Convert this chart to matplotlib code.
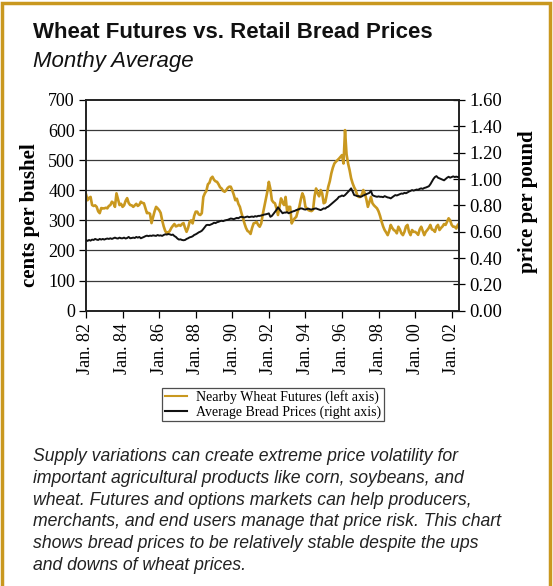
import matplotlib
matplotlib.use("Agg")
import matplotlib.pyplot as plt
from matplotlib.patches import Rectangle
from matplotlib.lines import Line2D
import numpy as np

# ---- data (monthly, Jan 1982 .. Jun 2002) ----
start_year = 1982
wheat_cents = [
    387, 367, 375, 378, 351, 348, 350, 345, 330, 324, 341, 340,   # 1982
    340, 342, 340, 348, 351, 362, 358, 345, 390, 370, 351, 355,   # 1983
    345, 350, 365, 374, 358, 351, 350, 345, 350, 355, 348, 352,   # 1984
    362, 358, 357, 340, 324, 325, 322, 291, 310, 330, 345, 340,   # 1985
    334, 325, 300, 280, 265, 258, 260, 265, 275, 282, 288, 280,   # 1986
    282, 285, 282, 288, 291, 275, 262, 275, 295, 300, 290, 315,   # 1987
    329, 329, 320, 318, 324, 378, 390, 398, 420, 425, 440, 445,   # 1988
    435, 430, 428, 420, 410, 406, 398, 395, 400, 408, 412, 412,   # 1989
    400, 385, 367, 372, 355, 345, 325, 307, 290, 275, 265, 262,   # 1990
    255, 275, 290, 292, 295, 285, 279, 290, 320, 345, 370, 395,   # 1991
    428, 405, 367, 360, 357, 340, 318, 345, 373, 360, 351, 378,   # 1992
    329, 345, 345, 290, 300, 307, 312, 330, 345, 370, 390, 378,   # 1993
    345, 340, 334, 332, 331, 335, 380, 406, 390, 380, 401, 390,   # 1994
    357, 360, 385, 412, 430, 456, 475, 489, 495, 500, 505, 511,   # 1995
    517, 489, 600, 520, 489, 467, 440, 423, 410, 400, 384, 378,   # 1996
    378, 385, 401, 390, 370, 345, 362, 378, 357, 350, 345, 340,   # 1997
    330, 315, 296, 280, 268, 260, 251, 265, 285, 275, 268, 265,   # 1998
    257, 279, 270, 257, 251, 262, 280, 285, 262, 251, 268, 262,   # 1999
    262, 258, 252, 270, 279, 265, 251, 262, 268, 275, 285, 270,   # 2000
    268, 262, 279, 285, 268, 275, 280, 288, 285, 296, 307, 300,   # 2001
    285, 279, 279, 273, 285, 290,                                 # 2002
]
bread_dollars = [
    0.537, 0.530, 0.537, 0.532, 0.540, 0.537, 0.545, 0.540, 0.537, 0.545, 0.540, 0.545,
    0.540, 0.545, 0.548, 0.545, 0.550, 0.545, 0.550, 0.555, 0.550, 0.548, 0.555, 0.550,
    0.550, 0.555, 0.548, 0.552, 0.560, 0.550, 0.552, 0.555, 0.552, 0.560, 0.555, 0.560,
    0.550, 0.555, 0.560, 0.566, 0.570, 0.566, 0.570, 0.568, 0.572, 0.570, 0.568, 0.575,
    0.570, 0.572, 0.568, 0.575, 0.580, 0.578, 0.582, 0.580, 0.575, 0.578, 0.567, 0.560,
    0.548, 0.540, 0.542, 0.537, 0.535, 0.537, 0.545, 0.550, 0.557, 0.560, 0.565, 0.575,
    0.580, 0.587, 0.595, 0.600, 0.607, 0.620, 0.635, 0.650, 0.652, 0.650, 0.655, 0.660,
    0.668, 0.665, 0.672, 0.675, 0.680, 0.683, 0.680, 0.685, 0.688, 0.690, 0.695, 0.700,
    0.698, 0.695, 0.700, 0.705, 0.702, 0.710, 0.713, 0.710, 0.708, 0.712, 0.715, 0.710,
    0.713, 0.715, 0.712, 0.718, 0.715, 0.720, 0.720, 0.723, 0.726, 0.730, 0.732, 0.735,
    0.739, 0.713, 0.720, 0.735, 0.751, 0.765, 0.785, 0.770, 0.755, 0.740, 0.745, 0.745,
    0.748, 0.740, 0.745, 0.750, 0.755, 0.758, 0.764, 0.768, 0.772, 0.777, 0.775, 0.770,
    0.768, 0.772, 0.775, 0.770, 0.768, 0.772, 0.775, 0.777, 0.772, 0.768, 0.764, 0.770,
    0.777, 0.775, 0.785, 0.790, 0.800, 0.810, 0.820, 0.830, 0.840, 0.850, 0.865, 0.868,
    0.875, 0.870, 0.878, 0.890, 0.903, 0.915, 0.929, 0.905, 0.878, 0.875, 0.870, 0.870,
    0.865, 0.868, 0.875, 0.880, 0.885, 0.890, 0.895, 0.911, 0.878, 0.872, 0.868, 0.865,
    0.868, 0.865, 0.865, 0.862, 0.870, 0.865, 0.860, 0.858, 0.853, 0.862, 0.870, 0.878,
    0.875, 0.880, 0.885, 0.890, 0.888, 0.895, 0.892, 0.898, 0.905, 0.910, 0.916, 0.912,
    0.916, 0.920, 0.918, 0.925, 0.929, 0.925, 0.932, 0.935, 0.940, 0.945, 0.960, 0.980,
    1.000, 1.015, 1.022, 1.010, 1.005, 1.000, 0.995, 0.990, 1.000, 1.010, 1.017, 1.010,
    1.015, 1.020, 1.015, 1.018, 1.015, 1.017,
]
xtick_years = [1982, 1984, 1986, 1988, 1990, 1992, 1994, 1996, 1998, 2000, 2002]
xtick_labels = ["Jan. 82", "Jan. 84", "Jan. 86", "Jan. 88", "Jan. 90", "Jan. 92",
                "Jan. 94", "Jan. 96", "Jan. 98", "Jan. 00", "Jan. 02"]
left_ticks = [0, 100, 200, 300, 400, 500, 600, 700]
right_ticks = [0.0, 0.2, 0.4, 0.6, 0.8, 1.0, 1.2, 1.4, 1.6]

title = "Wheat Futures vs. Retail Bread Prices"
subtitle = "Monthy Average"
caption = ("Supply variations can create extreme price volatility for\n"
           "important agricultural products like corn, soybeans, and\n"
           "wheat. Futures and options markets can help producers,\n"
           "merchants, and end users manage that price risk. This chart\n"
           "shows bread prices to be relatively stable despite the ups\n"
           "and downs of wheat prices.")

GOLD = "#C9981F"
W, H = 553, 586
fig = plt.figure(figsize=(W / 100, H / 100), dpi=100)

t = start_year + np.arange(len(wheat_cents)) / 12.0
tb = start_year + np.arange(len(bread_dollars)) / 12.0

ax = fig.add_axes([86 / W, 1 - 310.7 / H, (459.3 - 86) / W, (310.7 - 100) / H])
ax2 = ax.twinx()

ax.set_xlim(start_year, t[-1])
ax.set_ylim(0, 700)
ax2.set_ylim(0, 1.6)

for yv in left_ticks[1:-1]:
    ax.axhline(yv, color="#3a3a3a", lw=0.9, zorder=1)

ax2.plot(tb, bread_dollars, color="#111111", lw=1.4, zorder=3)
ax.plot(t, wheat_cents, color=GOLD, lw=1.9, zorder=2)
ax.set_zorder(0)
ax2.set_zorder(1)

serif = "Liberation Serif"
ax.set_yticks(left_ticks)
ax.set_yticklabels([str(v) for v in left_ticks], fontfamily=serif, fontsize=13)
ax.set_xticks(xtick_years)
ax.set_xticklabels(xtick_labels, rotation=90, fontfamily=serif, fontsize=13)
ax2.set_yticks(right_ticks)
ax2.set_yticklabels([f"{v:.2f}" for v in right_ticks], fontfamily=serif, fontsize=13.5)

ax.tick_params(axis="y", direction="out", length=5, width=0.9, pad=3)
ax.tick_params(axis="x", direction="out", length=5, width=0.9, pad=4)
ax2.tick_params(axis="y", direction="inout", length=8, width=0.9, pad=3)
for a in (ax, ax2):
    for s in a.spines.values():
        s.set_linewidth(1.2)
        s.set_color("#222222")

fig.text(30 / W, 1 - 215 / H, "cents per bushel", rotation=90, ha="center", va="center",
         fontfamily=serif, fontweight="bold", fontsize=15)
fig.text(528 / W, 1 - 202 / H, "price per pound", rotation=90, ha="center", va="center",
         fontfamily=serif, fontweight="bold", fontsize=15)

fig.text(33 / W, 1 - 32 / H, title, ha="left", va="center", fontfamily="Liberation Sans",
         fontweight="bold", fontsize=16, color="#111111")
fig.text(33 / W, 1 - 61 / H, subtitle, ha="left", va="center", fontfamily="Liberation Sans",
         style="italic", fontsize=16, color="#111111")

handles = [Line2D([], [], color=GOLD, lw=1.5), Line2D([], [], color="#111111", lw=1.5)]
leg = fig.legend(handles, ["Nearby Wheat Futures (left axis)", "Average Bread Prices (right axis)"],
                 loc="center", bbox_to_anchor=(273 / W, 1 - 404.5 / H), frameon=True, fancybox=False,
                 prop={"family": serif, "size": 10}, handlelength=1.6, handletextpad=0.6,
                 labelspacing=0.05, borderpad=0.2)
leg.get_frame().set_edgecolor("#222222")
leg.get_frame().set_linewidth(0.9)

fig.text(33 / W, 1 - 448 / H, caption, ha="left", va="top", fontfamily="Liberation Sans",
         style="italic", fontsize=12.7, color="#222222", linespacing=1.37)

fig.patches.append(Rectangle((1.5 / W, -0.02), (W - 5) / W, 1.02 - 2.5 / H, transform=fig.transFigure,
                             fill=False, edgecolor=GOLD, lw=2.5))

fig.savefig("out.png", dpi=100)
